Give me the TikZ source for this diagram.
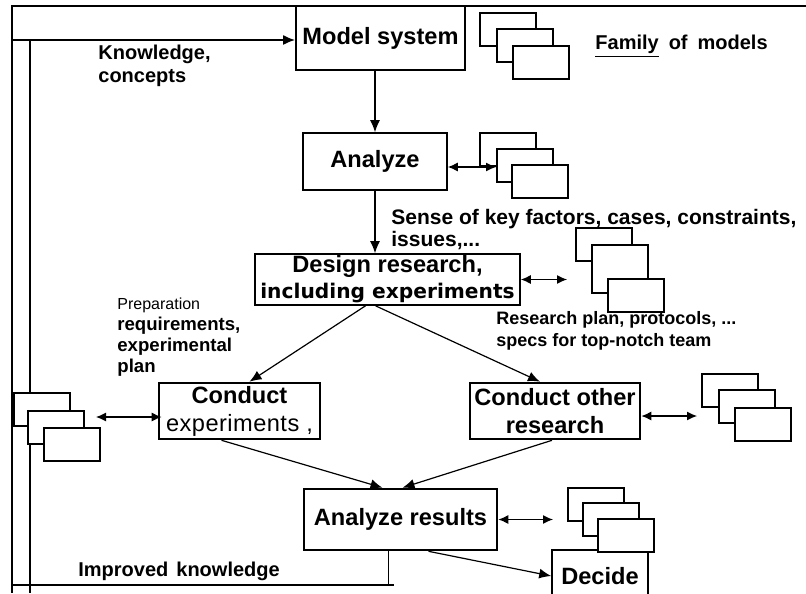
\documentclass[tikz,border=0pt]{standalone}
\usepackage{fontspec}
\setmainfont{Liberation Sans}
\newfontfamily\widefont{DejaVu Sans}
\usetikzlibrary{arrows.meta}

\tikzset{
  stepbox/.style={draw, line width=0.8pt, align=center, inner sep=1pt,
    font=\fontsize{11.8}{14}\selectfont\bfseries},
  heavybox/.style={stepbox, line width=1.3pt},
  sheet/.style={draw, fill=white, line width=1pt, minimum width=28pt,
    minimum height=16.5pt, inner sep=0pt, anchor=north west},
  note/.style={inner sep=0pt, align=left, anchor=north west,
    font=\fontsize{10}{11.5}\selectfont\bfseries},
  arr/.style={-{Latex[length=6pt,width=5pt]}, line width=0.6pt},
  dbl/.style={{Latex[length=5pt,width=4.5pt]}-{Latex[length=5pt,width=4.5pt]}, line width=0.6pt},
  frame/.style={line width=1.3pt}
}

\begin{document}
\begin{tikzpicture}[x=0.5pt,y=-0.5pt]
\useasboundingbox (0,0) rectangle (806,593);

% frame lines of the loop
\coordinate (tl) at (12,6);
\coordinate (tr) at (806,6);
\coordinate (bl) at (12,593);
\coordinate (kn) at (12,40);
\coordinate (in) at (30,40);
\coordinate (ib) at (30,593);
\coordinate (fb) at (12,585);
\draw[frame] (tr) -- (tl) -- (bl);
\draw[frame] (in) -- (ib);

% process boxes
\node[stepbox, minimum width=84.5pt, minimum height=32pt] (model) at (380.5,38) {Model system};
\node[stepbox, minimum width=72pt, minimum height=28.5pt] (analyze) at (375,161.5) {Analyze};
\node[stepbox, minimum width=132.5pt, minimum height=25.5pt, inner sep=0.5pt, font=\fontsize{11.8}{13}\selectfont\bfseries] (design) at (387.5,279.5)
  {Design research,\\{\widefont\fontsize{10.1}{13}\selectfont including experiments}};
\node[heavybox, minimum width=80.5pt, minimum height=28pt] (condexp) at (239.5,411)
  {Conduct\\{\mdseries\addfontfeature{LetterSpace=2}experiments ,}};
\node[heavybox, minimum width=85pt, minimum height=28pt] (condoth) at (555,411) {Conduct other\\research};
\node[heavybox, minimum width=96.5pt, minimum height=30.5pt] (results) at (400.5,519.5) {Analyze results};
\node[stepbox, minimum width=48pt, minimum height=26pt] (decide) at (600,576) {Decide};

% families of models
\foreach \i/\x/\y in {1/479/12, 2/496/28, 3/512/45}
  \node[sheet] (modelsh\i) at (\x,\y) {};
\foreach \i/\x/\y in {1/479/132, 2/496/148, 3/511/164}
  \node[sheet] (analyzesh\i) at (\x,\y) {};
\node[sheet] (designsh1) at (575,227) {};
\node[sheet, minimum height=24pt] (designsh2) at (591,244) {};
\node[sheet] (designsh3) at (607,278) {};
\foreach \i/\x/\y in {1/13/392, 2/27/410, 3/43/427}
  \node[sheet] (expsh\i) at (\x,\y) {};
\foreach \i/\x/\y in {1/701/373, 2/718/389, 3/734/407}
  \node[sheet] (othsh\i) at (\x,\y) {};
\foreach \i/\x/\y in {1/567/487, 2/582/502, 3/597/518}
  \node[sheet] (resultsh\i) at (\x,\y) {};

% labels
\node[note] (famlabel) at (595,35) {\underline{Family}\hspace{0.5em}of\hspace{0.5em}models};
\node[note] (knowlabel) at (98,45) {Knowledge,\\concepts};
\node[note, font=\fontsize{10.5}{11}\selectfont\bfseries] (senselabel) at (391,209)
  {Sense of key factors, cases, constraints,\\issues,...};
\node[note, font=\fontsize{9.3}{10.5}\selectfont\bfseries] (preplabel) at (117,298)
  {{\mdseries\fontsize{8}{10}\selectfont Preparation}\\requirements,\\experimental\\plan};
\node[note, font=\fontsize{9}{11}\selectfont\bfseries] (planlabel) at (496,311)
  {Research plan, protocols, ...\\specs for top-notch team};
\node[note, anchor=base west] (improvlabel) at (78,576) {Improved\hspace{0.4em}knowledge};

% flow
\draw[arr, line width=1pt] (kn) -- (kn -| model.west);
\draw[arr] (analyze.north |- model.south) -- (analyze.north);
\draw[arr] (analyze.south) -- (analyze.south |- design.north);
\draw[arr] ([xshift=-11pt]design.south) -- ([xshift=5pt]condexp.north);
\draw[arr] ([xshift=-6pt]design.south) -- ([xshift=-7.5pt]condoth.north);
\draw[arr] ([xshift=-9pt]condexp.south) -- ([xshift=-9pt]results.north);
\draw[arr] ([xshift=-1.5pt]condoth.south) -- ([xshift=1pt]results.north);
\draw[arr] ([xshift=14pt]results.south) -- (decide.west);

% links to the families
\draw[dbl] ([yshift=-2.75pt]analyze.east) -- ([yshift=-2.75pt]analyze.east -| analyzesh2.west);
\draw[dbl, shorten >=4pt] (design.east) -- (design.east -| designsh1.west);
\draw[dbl, shorten <=5.5pt, shorten >=-2pt] ([yshift=-3pt]condexp.west -| expsh2.east) -- ([yshift=-3pt]condexp.west);
\draw[dbl, shorten >=2pt] ([yshift=-2.5pt]condoth.east) -- ([yshift=-2.5pt]condoth.east -| othsh1.west);
\draw[dbl, shorten >=7pt] (results.east) -- (results.east -| resultsh1.west);

% improved knowledge back to the loop
\draw[line width=0.6pt] ([xshift=-6pt]results.south) -- ([xshift=-6pt]results.south |- fb);
\draw[frame] (fb) -- ([xshift=-3.5pt]results.south |- fb);
\end{tikzpicture}
\end{document}
